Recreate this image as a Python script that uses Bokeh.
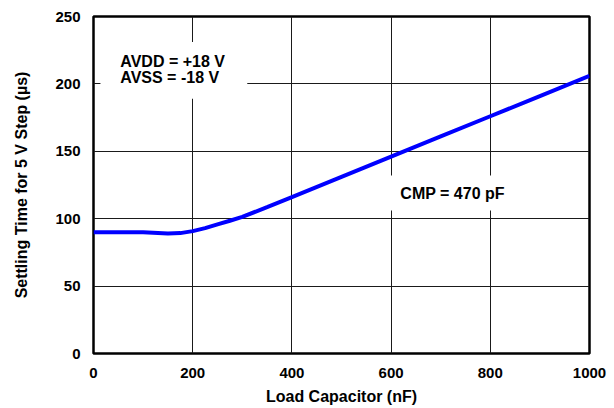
from bokeh.plotting import figure
from bokeh.models import Label, BoxAnnotation, Range1d, FixedTicker
from bokeh.embed import file_html
from bokeh.resources import INLINE

# Data
load_cap_nf = [0, 50, 100, 150, 175, 200, 225, 250, 275, 300, 350, 400, 500, 600, 700, 800, 900, 1000]
settling_us = [90, 90, 90, 89, 89.3, 90.8, 93, 95.8, 98.5, 101.3, 108.6, 116, 131, 146, 161, 176, 191, 206]

x_ticks = [0, 200, 400, 600, 800, 1000]
y_ticks = [0, 50, 100, 150, 200, 250]

FONT = "Liberation Sans"

p = figure(width=614, height=408, output_backend="svg", toolbar_location=None,
           x_range=Range1d(0, 1000), y_range=Range1d(0, 250),
           min_border_left=93, min_border_right=25, min_border_top=16, min_border_bottom=55)

p.line(load_cap_nf, settling_us, line_color="#0000ff", line_width=4)

for ax in (p.xaxis[0], p.yaxis[0]):
    ax.axis_line_color = None
    ax.major_tick_line_color = None
    ax.minor_tick_line_color = None
    ax.major_tick_out = 0
    ax.major_tick_in = 0
    ax.major_label_text_font = FONT
    ax.major_label_text_font_style = "bold"
    ax.major_label_text_font_size = "15px"
    ax.major_label_text_color = "black"
    ax.axis_label_text_font = FONT
    ax.axis_label_text_font_style = "bold"
    ax.axis_label_text_color = "black"

p.xaxis[0].ticker = FixedTicker(ticks=x_ticks)
p.yaxis[0].ticker = FixedTicker(ticks=y_ticks)
p.xaxis[0].major_label_standoff = 14
p.yaxis[0].major_label_standoff = 13

p.xaxis[0].axis_label = "Load Capacitor (nF)"
p.xaxis[0].axis_label_text_font_size = "16px"
p.xaxis[0].axis_label_standoff = 7

p.yaxis[0].axis_label = "Settling Time for 5 V Step (µs)"
p.yaxis[0].axis_label_text_font_size = "16px"
p.yaxis[0].axis_label_standoff = 22

p.xgrid.ticker = FixedTicker(ticks=x_ticks)
p.ygrid.ticker = FixedTicker(ticks=y_ticks)
p.grid.grid_line_color = "#1a1a1a"
p.grid.grid_line_width = 1

p.outline_line_color = "black"
p.outline_line_width = 2.5
p.background_fill_color = "white"
p.border_fill_color = "white"

# annotation boxes
p.add_layout(BoxAnnotation(left=14, right=310, bottom=189, top=231,
                           fill_color="white", fill_alpha=1.0, line_color=None))
p.add_layout(BoxAnnotation(left=579, right=871, bottom=106, top=132,
                           fill_color="white", fill_alpha=1.0, line_color=None))

for txt, yv in (("AVDD = +18 V", 216.5), ("AVSS = -18 V", 204.8)):
    p.add_layout(Label(x=54, y=yv, text=txt, text_align="left", text_baseline="middle",
                       text_font=FONT, text_font_style="bold", text_font_size="16px",
                       text_color="black"))

p.add_layout(Label(x=724, y=118.7, text="CMP = 470 pF", text_align="center", text_baseline="middle",
                   text_font=FONT, text_font_style="bold", text_font_size="16px",
                   text_color="black"))

open("out.html", "w").write(file_html(p, INLINE))
